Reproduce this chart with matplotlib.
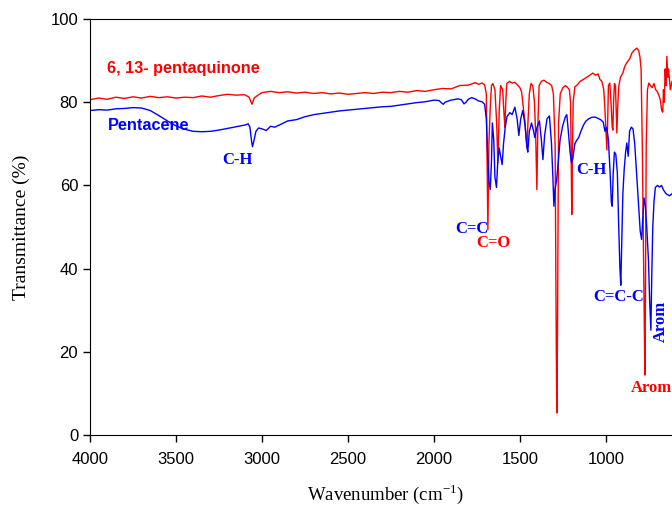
import matplotlib
matplotlib.use('Agg')
import matplotlib.pyplot as plt

# Pentacene spectrum (wavenumber cm-1, transmittance %)
pentacene_wn = [4000, 3950, 3900, 3850, 3800, 3750, 3700, 3650, 3600, 3550, 3500, 3450, 3400, 3350,
                3300, 3250, 3200, 3150, 3100, 3080, 3070, 3060, 3055, 3048, 3035, 3020, 3000, 2975,
                2950, 2925, 2900, 2850, 2800, 2750, 2700, 2650, 2600, 2550, 2500, 2450, 2400, 2350,
                2300, 2250, 2200, 2150, 2100, 2050, 2000, 1970, 1955, 1945, 1935, 1900, 1860, 1840,
                1825, 1815, 1800, 1780, 1760, 1740, 1720, 1705, 1695, 1688, 1680, 1672, 1665, 1660,
                1652, 1645, 1636, 1628, 1620, 1612, 1603, 1595, 1585, 1575, 1558, 1545, 1529, 1516,
                1506, 1495, 1483, 1470, 1458, 1454, 1445, 1432, 1420, 1413, 1400, 1386, 1375, 1366,
                1356, 1342, 1328, 1316, 1308, 1302, 1296, 1287, 1278, 1266, 1250, 1235, 1227, 1218,
                1208, 1200, 1192, 1180, 1170, 1158, 1145, 1130, 1115, 1100, 1080, 1060, 1045, 1030,
                1015, 1005, 995, 985, 975, 968, 963, 957, 950, 942, 933, 925, 918, 913, 908, 901,
                893, 885, 878, 870, 862, 852, 842, 832, 820, 810, 800, 792, 785, 778, 770, 762, 752,
                745, 738, 733, 727, 720, 712, 700, 688, 676, 666, 650, 630, 615]
pentacene_t = [78.0, 78.2, 78.1, 78.4, 78.5, 78.7, 78.6, 78.0, 76.8, 75.5, 74.3, 73.5, 73.0, 72.9,
               73.0, 73.3, 73.7, 74.1, 74.5, 74.8, 74.0, 70.5, 69.3, 70.5, 73.0, 73.8, 73.6, 73.2,
               74.2, 74.0, 74.5, 75.5, 75.8, 76.5, 77.0, 77.3, 77.6, 77.9, 78.1, 78.3, 78.5, 78.7,
               78.9, 79.0, 79.3, 79.6, 79.9, 80.1, 80.5, 80.4, 79.8, 79.5, 80.0, 80.5, 80.8, 80.6,
               79.6, 79.9, 80.7, 81.1, 80.8, 80.3, 80.1, 79.5, 76.0, 68.0, 61.0, 59.0, 66.0, 75.0,
               71.0, 62.0, 59.5, 66.0, 69.0, 67.0, 65.0, 70.0, 74.0, 76.5, 77.5, 77.0, 78.8, 76.0,
               72.0, 76.0, 78.0, 74.5, 69.0, 68.0, 73.0, 75.0, 73.0, 71.5, 74.0, 75.5, 71.0, 66.2,
               72.0, 76.0, 76.7, 70.0, 62.0, 55.0, 59.0, 61.0, 65.0, 71.0, 74.5, 76.5, 77.0, 73.0,
               68.0, 65.5, 66.5, 70.0, 70.8, 71.5, 73.0, 74.5, 75.5, 76.0, 76.4, 76.4, 76.1, 75.8,
               75.2, 73.0, 74.0, 71.0, 63.0, 56.0, 55.0, 63.0, 68.0, 67.5, 63.0, 50.0, 40.0, 36.0,
               45.0, 58.0, 64.0, 68.0, 70.2, 67.0, 73.0, 74.0, 73.6, 70.0, 62.0, 55.0, 49.0, 47.0,
               52.0, 57.0, 55.0, 50.0, 42.0, 32.0, 25.2, 38.0, 50.0, 56.0, 59.5, 60.0, 59.6, 60.0,
               59.0, 58.0, 57.5, 58.0]

# 6,13-pentaquinone spectrum
quinone_wn = [4000, 3950, 3900, 3850, 3800, 3750, 3700, 3650, 3600, 3550, 3500, 3450, 3400, 3350,
              3300, 3250, 3200, 3150, 3100, 3075, 3058, 3045, 3020, 3000, 2950, 2900, 2850, 2800,
              2750, 2700, 2650, 2600, 2550, 2500, 2450, 2400, 2350, 2300, 2250, 2200, 2150, 2100,
              2050, 2000, 1950, 1900, 1850, 1800, 1760, 1740, 1720, 1705, 1695, 1686, 1680, 1672,
              1665, 1657, 1645, 1635, 1628, 1620, 1612, 1600, 1592, 1587, 1582, 1576, 1560, 1545,
              1530, 1515, 1500, 1490, 1478, 1471, 1465, 1459, 1452, 1445, 1435, 1425, 1415, 1408,
              1401, 1395, 1388, 1375, 1360, 1345, 1330, 1315, 1305, 1295, 1288, 1285, 1281, 1275,
              1265, 1250, 1235, 1222, 1212, 1205, 1200, 1198, 1195, 1190, 1180, 1165, 1150, 1130,
              1110, 1090, 1076, 1060, 1045, 1035, 1023, 1012, 1006, 998, 994, 990, 985, 977, 970,
              963, 959, 955, 950, 944, 940, 936, 930, 924, 915, 901, 890, 878, 860, 849, 835, 820,
              810, 802, 795, 788, 780, 775, 773, 770, 765, 758, 750, 740, 730, 720, 710, 700, 690,
              683, 675, 669, 665, 660, 655, 650, 645, 640, 635, 625, 615]
quinone_t = [80.6, 81.0, 80.7, 81.2, 80.9, 81.3, 81.0, 81.4, 81.1, 81.3, 81.0, 81.2, 81.1, 81.5,
             81.2, 81.6, 81.9, 81.7, 81.8, 81.2, 79.5, 81.0, 81.8, 82.3, 82.6, 82.3, 82.5, 82.2,
             82.4, 82.1, 82.3, 82.0, 82.2, 81.9, 82.1, 82.3, 82.1, 82.4, 82.3, 82.6, 82.4, 82.8,
             82.6, 83.0, 83.3, 83.2, 84.0, 84.1, 84.7, 84.3, 84.6, 84.2, 82.0, 49.3, 70.0, 79.0,
             84.0, 84.5, 83.0, 75.0, 65.4, 78.0, 84.0, 83.0, 77.0, 74.0, 80.0, 84.5, 85.0, 84.6,
             84.8, 84.2, 83.5, 82.5, 78.0, 75.7, 72.0, 69.0, 76.0, 82.0, 84.5, 84.0, 80.0, 72.0,
             59.0, 75.0, 84.0, 85.0, 85.3, 84.8, 84.5, 84.0, 82.0, 70.0, 20.0, 5.3, 25.0, 75.0,
             82.0, 83.5, 84.0, 83.5, 83.0, 80.0, 60.0, 53.0, 65.0, 80.0, 83.7, 84.2, 85.0, 85.5,
             86.0, 86.6, 87.0, 86.5, 86.8, 85.5, 85.0, 83.0, 79.0, 72.0, 68.5, 74.0, 84.0, 84.6, 80.0,
             74.0, 73.3, 80.0, 84.5, 84.0, 78.0, 72.6, 80.0, 84.0, 86.0, 87.0, 88.6, 89.5, 90.5, 91.8,
             92.5, 93.0, 92.5, 91.0, 88.0, 70.0, 40.0, 20.0, 14.4, 30.0, 70.0, 83.0, 84.6, 84.0,
             83.5, 84.5, 83.0, 82.5, 81.5, 80.5, 78.0, 77.6, 83.0, 80.0, 88.0, 84.0, 91.0, 86.0,
             88.0, 83.0, 85.0]

x_ticks = [4000, 3500, 3000, 2500, 2000, 1500, 1000]
y_ticks = [0, 20, 40, 60, 80, 100]

sans = ['Liberation Sans', 'DejaVu Sans']
serif = ['Liberation Serif', 'DejaVu Serif']

fig = plt.figure(figsize=(6.72, 5.05), dpi=100)
# axes runs past the right edge like the cropped original
ax = fig.add_axes([90 / 672, 70 / 505, 619 / 672, 416 / 505])

ax.plot(quinone_wn, quinone_t, color='red', lw=1.0)
ax.plot(pentacene_wn, pentacene_t, color='blue', lw=1.0)

ax.set_xlim(4000, 400)
ax.set_ylim(0, 100)
ax.set_xticks(x_ticks)
ax.set_yticks(y_ticks)
ax.tick_params(direction='out', length=5, width=1, labelsize=12)
ax.tick_params(axis='x', pad=7)
for lab in ax.get_xticklabels() + ax.get_yticklabels():
    lab.set_fontfamily(sans)
ax.spines['right'].set_visible(False)

ax.set_xlabel('Wavenumber (cm$^{\\mathregular{-1}}$)', fontsize=13.5, family=serif)
ax.xaxis.set_label_coords(0.477, -0.112)
ax.set_ylabel('Transmittance (%)', fontsize=14, family=serif)
ax.yaxis.set_label_coords(-0.097, 0.5)

bold_sans = dict(family=sans, fontweight='bold', fontsize=11.7)
bold_serif = dict(family=serif, fontweight='bold', fontsize=12)

ax.text(3900, 88.2, '6, 13- pentaquinone', color='red', va='center', **bold_sans)
ax.text(3895, 74.5, 'Pentacene', color='blue', va='center', **bold_sans)
ax.text(3233, 66.1, 'C-H', color='blue', va='center', **bold_serif)
ax.text(1680, 49.5, 'C=C', color='blue', va='center', ha='right', **bold_serif)
ax.text(1756, 46.2, 'C=O', color='red', va='center', **bold_serif)
ax.text(1174, 63.7, 'C-H', color='blue', va='center', **bold_serif)
ax.text(1076, 33.2, 'C=C-C', color='blue', va='center', **bold_serif)
ax.text(680, 27.2, 'Arom', color='blue', va='center', ha='center', rotation=90, **bold_serif)
ax.text(855, 11.3, 'Arom', color='red', va='center', **bold_serif)

fig.savefig('out.png', dpi=100)
